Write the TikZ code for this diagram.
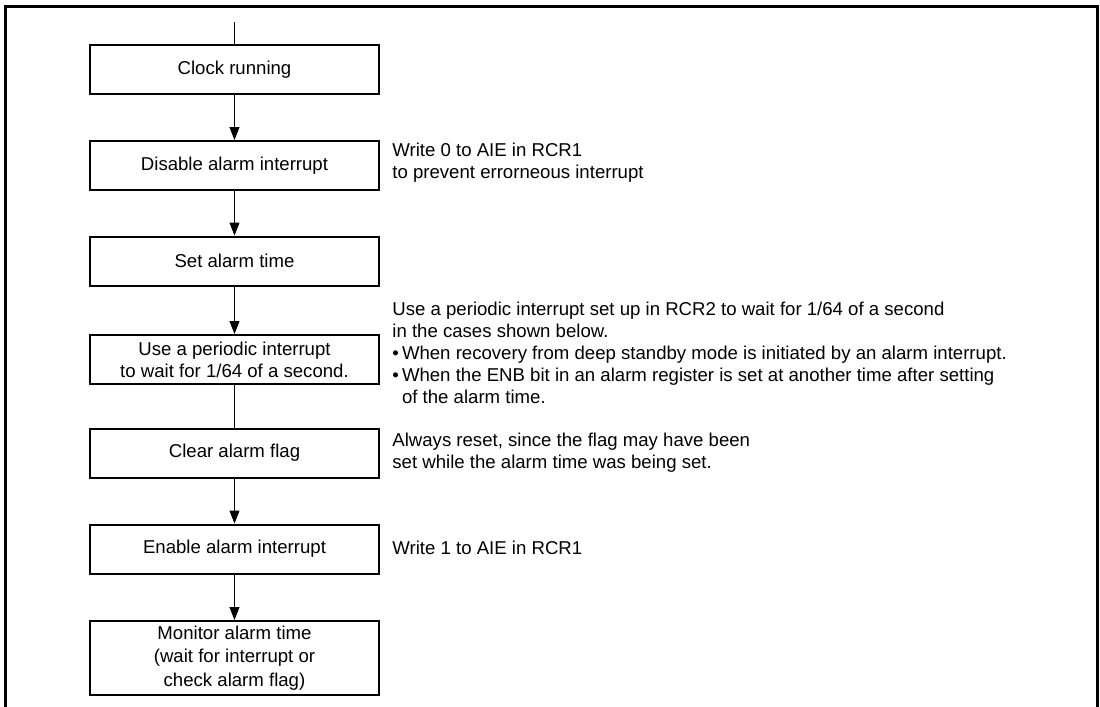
\documentclass[tikz,border=0pt]{standalone}
\usepackage{fontspec}
\setmainfont{Liberation Sans}
\usetikzlibrary{arrows.meta}

\begin{document}
\begin{tikzpicture}[x=0.5pt,y=-0.5pt,
    stepbox/.style={draw,line width=1pt,minimum width=144.5pt,minimum height=24.5pt,
      inner sep=0pt,align=center,font=\fontsize{9.3}{11}\selectfont},
    note/.style={anchor=west,inner sep=0pt,align=left,font=\fontsize{9.3}{11}\selectfont},
    flow/.style={line width=0.5pt,-{Triangle[length=6.5pt,width=5pt]}}]
        \useasboundingbox (0,0) rectangle (1100,707);
        % Frame, open at the bottom
        \draw[line width=1.5pt] (5,707) -- (5,6) -- (1097,6) -- (1097,707);
        % Steps
        \node[stepbox] (clock) at (234.5,69.5) {Clock running};
        \node[stepbox] (disable) at (234.5,165.5) {Disable alarm interrupt};
        \node[stepbox] (settime) at (234.5,261) {Set alarm time};
        \node[stepbox] (wait) at (234.5,359.5) {Use a periodic interrupt\\to wait for 1/64 of a second.};
        \node[stepbox] (clearflag) at (234.5,453) {Clear alarm flag};
        \node[stepbox] (enable) at (234.5,549) {Enable alarm interrupt};
        \node[stepbox,minimum height=37pt,font=\fontsize{9.3}{11.7}\selectfont] (monitor) at (234.5,658) {Monitor alarm time\\(wait for interrupt or\\check alarm flag)};
        % Connectors
        \coordinate (start) at (234.5,22);
        \draw[line width=0.5pt] (start) -- (clock);
        \draw[flow] (clock) -- (disable);
        \draw[flow] (disable) -- (settime);
        \draw[flow] (settime) -- (wait);
        \draw[line width=0.5pt] (wait) -- (clearflag);
        \draw[flow] (clearflag) -- (enable);
        \draw[flow] (enable) -- (monitor);
        % Notes
        \node[note] (note1) at (392,162.5) {Write 0 to AIE in RCR1\\to prevent errorneous interrupt};
        \node[note] (note2) at (392,353) {Use a periodic interrupt set up in RCR2 to wait for 1/64 of a second\\in the cases shown below.\\\textbullet\,When recovery from deep standby mode is initiated by an alarm interrupt.\\\textbullet\,When the ENB bit in an alarm register is set at another time after setting\\\hphantom{\textbullet\,}of the alarm time.};
        \node[note] (note3) at (392,452.5) {Always reset, since the flag may have been\\set while the alarm time was being set.};
        \node[note] (note4) at (392,548) {Write 1 to AIE in RCR1};
\end{tikzpicture}
\end{document}
